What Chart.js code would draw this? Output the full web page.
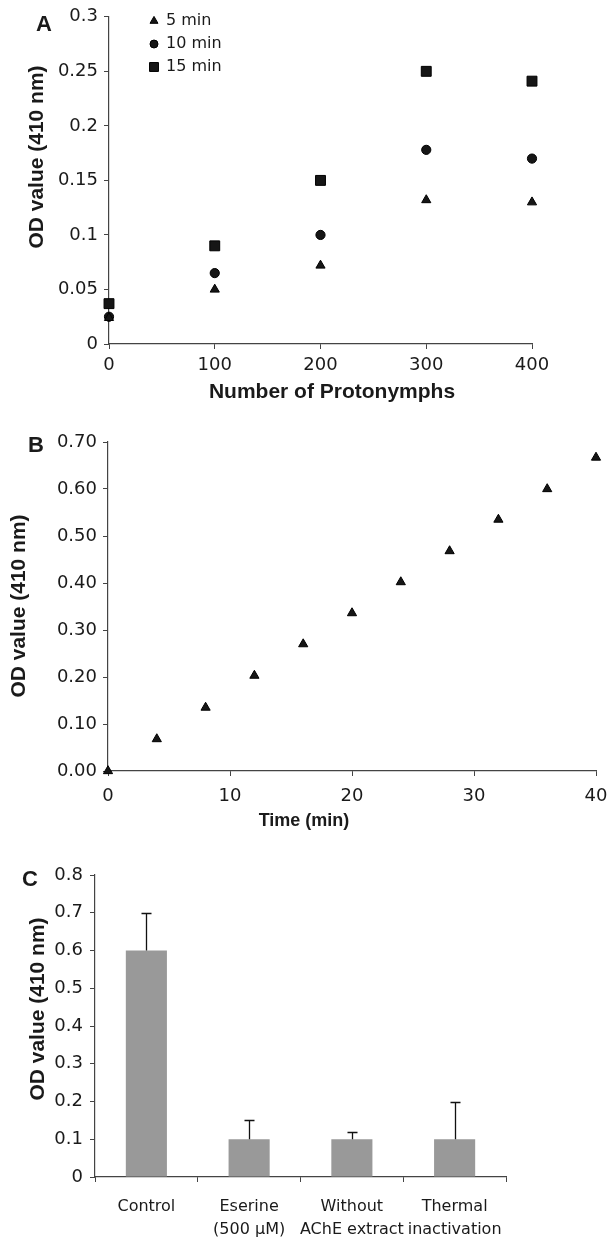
<!DOCTYPE html>
<html>
<head>
<meta charset="utf-8">
<script src="https://cdn.jsdelivr.net/npm/chart.js@4.4.1/dist/chart.umd.min.js"></script>
<style>
  body { margin: 0; background: #fff; width: 607px; height: 1240px; position: relative; overflow: hidden; }
  canvas { position: absolute; left: 0; }
</style>
</head>
<body>
<canvas id="chartA" width="607" height="410" style="top:0"></canvas>
<canvas id="chartB" width="607" height="430" style="top:410px"></canvas>
<canvas id="chartC" width="607" height="400" style="top:840px"></canvas>
<script>
// Panel A: OD vs number of protonymphs
const protonymphs = [0, 100, 200, 300, 400];
const od5min = [0.024, 0.050, 0.072, 0.132, 0.130];
const od10min = [0.025, 0.065, 0.100, 0.178, 0.170];
const od15min = [0.037, 0.090, 0.150, 0.250, 0.241];

// Panel B: OD vs time
const timeMin = [0, 4, 8, 12, 16, 20, 24, 28, 32, 36, 40];
const odTime = [0.000, 0.068, 0.135, 0.203, 0.270, 0.336, 0.402, 0.468, 0.535, 0.600, 0.667];

// Panel C: treatments
const treatments = [['Control'], ['Eserine', '(500 µM)'], ['Without', 'AChE extract'], ['Thermal', 'inactivation']];
const odTreatment = [0.60, 0.10, 0.10, 0.10];
const odError = [0.10, 0.05, 0.02, 0.10];

const TICK_FONT = { family: 'DejaVu Sans', size: 18 };
const TITLE_FONT = 'bold 21px "Liberation Sans", Arial, sans-serif';
const LETTER_FONT = 'bold 22px "Liberation Sans", Arial, sans-serif';
const INK = '#1a1a1a';
const AXIS = '#444';

// free text (panel letters, axis titles) drawn on the canvas
const textPlugin = {
  id: 'texts',
  afterDraw(chart, args, opts) {
    const ctx = chart.ctx;
    (opts.items || []).forEach(t => {
      ctx.save();
      ctx.font = t.font || TITLE_FONT;
      ctx.fillStyle = INK;
      ctx.textAlign = 'center';
      ctx.textBaseline = 'middle';
      ctx.translate(t.x, t.y);
      if (t.rotate) ctx.rotate(t.rotate);
      ctx.fillText(t.text, 0, 0);
      ctx.restore();
    });
  }
};

// legend drawn with the datasets' own point styles
const markerLegend = {
  id: 'markerLegend',
  afterDraw(chart, args, opts) {
    if (!opts.show) return;
    const ctx = chart.ctx;
    chart.data.datasets.forEach((ds, i) => {
      const y = opts.y + i * opts.gap;
      ctx.save();
      ctx.fillStyle = ds.backgroundColor;
      ctx.strokeStyle = ds.borderColor;
      ctx.lineWidth = 1;
      Chart.helpers.drawPoint(ctx, { pointStyle: ds.pointStyle, radius: ds.legendRadius, rotation: 0, borderWidth: 1 }, opts.x, y);
      ctx.font = '16px "DejaVu Sans"';
      ctx.fillStyle = INK;
      ctx.textAlign = 'left';
      ctx.textBaseline = 'middle';
      ctx.fillText(ds.label, opts.x + 12, y);
      ctx.restore();
    });
  }
};

// one-sided error bars with centred caps
const errorBars = {
  id: 'errorBars',
  afterDatasetsDraw(chart, args, opts) {
    if (!opts.errors) return;
    const ctx = chart.ctx;
    const meta = chart.getDatasetMeta(0);
    const yScale = chart.scales.y;
    ctx.save();
    ctx.strokeStyle = '#111';
    ctx.lineWidth = 1.3;
    meta.data.forEach((bar, i) => {
      const top = Math.round(yScale.getPixelForValue(chart.data.datasets[0].data[i] + opts.errors[i])) + 0.5;
      const x = Math.round(bar.x) + 0.5;
      ctx.beginPath();
      ctx.moveTo(x, bar.y);
      ctx.lineTo(x, top);
      ctx.moveTo(x - 5, top);
      ctx.lineTo(x + 5, top);
      ctx.stroke();
    });
    ctx.restore();
  }
};

function axisGrid() {
  return { display: true, drawOnChartArea: false, drawTicks: true, tickLength: 5, color: AXIS, lineWidth: 1 };
}
function axisBorder() {
  return { display: true, color: AXIS, width: 1.2 };
}
const plainNum = v => String(+v.toFixed(2));

// fixed axis box so the plot area lands where the figure has it
function fixHeight(h) {
  return s => { s.height = h; s.paddingLeft = 0; s.paddingRight = 0; };
}
function fixWidth(w) {
  return s => { s.width = w; };
}

function scatterSet(label, xs, ys, style, radius, legendRadius) {
  return {
    label: label,
    data: xs.map((x, i) => ({ x: x, y: ys[i] })),
    pointStyle: style,
    pointRadius: radius,
    legendRadius: legendRadius,
    backgroundColor: '#161616',
    borderColor: '#000',
    borderWidth: 1,
    showLine: false,
    clip: false
  };
}

// ---- Panel A ----
new Chart(document.getElementById('chartA'), {
  type: 'scatter',
  data: {
    datasets: [
      scatterSet('5 min', protonymphs, od5min, 'triangle', 5.3, 4.6),
      scatterSet('10 min', protonymphs, od10min, 'circle', 4.6, 4),
      scatterSet('15 min', protonymphs, od15min, 'rect', 7, 6.3)
    ]
  },
  options: {
    responsive: false,
    animation: false,
    layout: { padding: { left: 0, right: 75, top: 16, bottom: 0 } },
    plugins: {
      legend: { display: false },
      tooltip: { enabled: false },
      markerLegend: { show: true, x: 154, y: 21, gap: 23 },
      texts: { items: [
        { text: 'A', x: 44, y: 25, font: LETTER_FONT },
        { text: 'Number of Protonymphs', x: 332, y: 392 },
        { text: 'OD value (410 nm)', x: 37, y: 157, rotate: -Math.PI / 2 }
      ] }
    },
    scales: {
      x: {
        type: 'linear', min: 0, max: 400,
        ticks: { stepSize: 100, font: TICK_FONT, color: INK, padding: 6 },
        grid: axisGrid(), border: axisBorder(),
        afterFit: fixHeight(66)
      },
      y: {
        min: 0, max: 0.3,
        ticks: { stepSize: 0.05, font: TICK_FONT, color: INK, padding: 6, callback: plainNum },
        grid: axisGrid(), border: axisBorder(),
        afterFit: fixWidth(109)
      }
    }
  },
  plugins: [textPlugin, markerLegend]
});

// ---- Panel B ----
new Chart(document.getElementById('chartB'), {
  type: 'scatter',
  data: { datasets: [scatterSet('OD', timeMin, odTime, 'triangle', 5.3, 5.3)] },
  options: {
    responsive: false,
    animation: false,
    layout: { padding: { left: 0, right: 11, top: 32, bottom: 0 } },
    plugins: {
      legend: { display: false },
      tooltip: { enabled: false },
      markerLegend: { show: false },
      texts: { items: [
        { text: 'B', x: 36, y: 36, font: LETTER_FONT },
        { text: 'Time (min)', x: 304, y: 411, font: 'bold 18px "Liberation Sans", Arial, sans-serif' },
        { text: 'OD value (410 nm)', x: 19, y: 196, rotate: -Math.PI / 2 }
      ] }
    },
    scales: {
      x: {
        type: 'linear', min: 0, max: 40,
        ticks: { stepSize: 10, font: TICK_FONT, color: INK, padding: 10 },
        grid: axisGrid(), border: axisBorder(),
        afterFit: fixHeight(69)
      },
      y: {
        min: 0, max: 0.7,
        ticks: { stepSize: 0.1, font: TICK_FONT, color: INK, padding: 6, callback: v => v.toFixed(2) },
        grid: axisGrid(), border: axisBorder(),
        afterFit: fixWidth(108)
      }
    }
  },
  plugins: [textPlugin]
});

// ---- Panel C ----
new Chart(document.getElementById('chartC'), {
  type: 'bar',
  data: {
    labels: treatments,
    datasets: [{
      data: odTreatment,
      backgroundColor: '#999999',
      borderWidth: 0,
      categoryPercentage: 1,
      barPercentage: 0.4
    }]
  },
  options: {
    responsive: false,
    animation: false,
    layout: { padding: { left: 0, right: 101, top: 35, bottom: 0 } },
    plugins: {
      legend: { display: false },
      tooltip: { enabled: false },
      errorBars: { errors: odError },
      texts: { items: [
        { text: 'C', x: 30, y: 40, font: LETTER_FONT },
        { text: 'OD value (410 nm)', x: 38, y: 169, rotate: -Math.PI / 2 }
      ] }
    },
    scales: {
      x: {
        ticks: { font: { family: 'DejaVu Sans', size: 16, lineHeight: 1.45 }, color: INK, padding: 13, maxRotation: 0, autoSkip: false },
        grid: axisGrid(), border: axisBorder(),
        afterFit: fixHeight(63)
      },
      y: {
        min: 0, max: 0.8,
        ticks: { stepSize: 0.1, font: TICK_FONT, color: INK, padding: 7, callback: plainNum },
        grid: axisGrid(), border: axisBorder(),
        afterFit: fixWidth(95)
      }
    }
  },
  plugins: [textPlugin, errorBars]
});
</script>
</body>
</html>
